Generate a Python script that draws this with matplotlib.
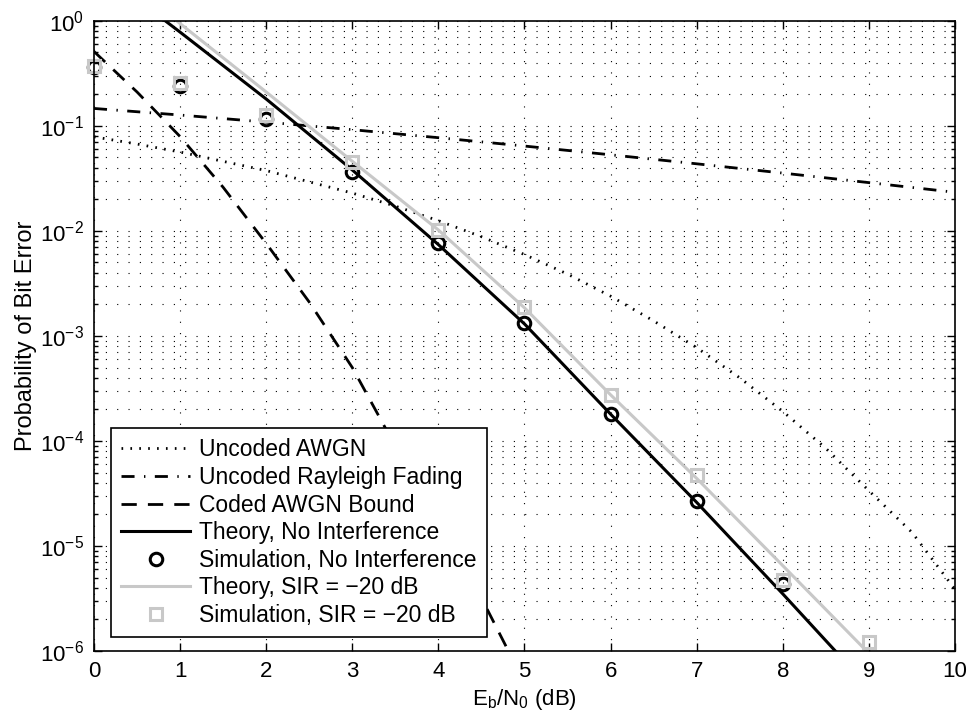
import matplotlib
matplotlib.use('Agg')
import matplotlib.pyplot as plt
from matplotlib.ticker import FixedLocator, NullFormatter, LogFormatterMathtext

plt.rcParams['font.family'] = ['Liberation Sans', 'DejaVu Sans']
plt.rcParams['mathtext.fontset'] = 'custom'
plt.rcParams['mathtext.rm'] = 'Liberation Sans'
plt.rcParams['mathtext.it'] = 'Liberation Sans:italic'
plt.rcParams['mathtext.default'] = 'regular'
plt.rcParams['font.size'] = 16

# Uncoded BPSK in AWGN
ebn0_awgn = [0, 0.5, 1, 1.5, 2, 2.5, 3, 3.5, 4, 4.5, 5, 5.5, 6, 6.5, 7, 7.5, 8, 8.5, 9, 9.5, 10]
pb_awgn = [0.0786, 0.0671, 0.0563, 0.0459, 0.0375, 0.0293, 0.0229, 0.0172, 0.0125, 0.0088,
           5.95e-3, 3.88e-3, 2.39e-3, 1.39e-3, 7.73e-4, 3.99e-4, 1.91e-4, 8.5e-5, 3.36e-5,
           1.35e-5, 3.87e-6]

# Uncoded Rayleigh fading
ebn0_ray = [0, 1, 2, 3, 4, 5, 6, 7, 8, 9, 10]
pb_ray = [0.1464, 0.1267, 0.1085, 0.0919, 0.0771, 0.0642, 0.0530, 0.0435, 0.0355, 0.0288, 0.0233]

# Coded AWGN union bound
ebn0_coded = [0, 0.5, 1, 1.5, 2, 2.5, 3, 3.5, 4, 4.5, 5]
pb_coded = [0.51, 0.21, 0.079, 0.026, 7.6e-3, 2.1e-3, 5.0e-4, 8.9e-5, 1.6e-5, 3.2e-6, 5e-7]

# Theory curves
ebn0_th = [0.8, 1, 2, 3, 4, 5, 6, 7, 8, 9]
pb_th_clean = [1.04, 0.78, 0.18, 0.038, 7.4e-3, 1.3e-3, 1.8e-4, 2.6e-5, 3.5e-6, 4.5e-7]
ebn0_th_sir = [0.9, 1, 2, 3, 4, 5, 6, 7, 8, 9, 10]
pb_th_sir = [1.1, 0.94, 0.21, 0.046, 0.0102, 1.85e-3, 2.75e-4, 4.4e-5, 6.5e-6, 0.95e-6, 1.4e-7]

# Simulation points
ebn0_sim_clean = [0, 1, 2, 3, 4, 5, 6, 7, 8]
pb_sim_clean = [0.36, 0.24, 0.115, 0.0366, 7.7e-3, 1.32e-3, 1.8e-4, 2.7e-5, 4.3e-6]
ebn0_sim_sir = [0, 1, 2, 3, 4, 5, 6, 7, 8, 9]
pb_sim_sir = [0.37, 0.257, 0.128, 0.045, 0.0102, 1.87e-3, 2.75e-4, 4.7e-5, 4.7e-6, 1.22e-6]

y_major = [1e-6, 1e-5, 1e-4, 1e-3, 1e-2, 1e-1, 1]
y_minor = [m * d for d in y_major[:-1] for m in range(2, 10)]

gray = '#c8c8c8'

fig = plt.figure(figsize=(9.72, 7.17), dpi=100)
ax = fig.add_axes([0.0967, 0.092, 0.8858, 0.879])

ax.semilogy(ebn0_awgn, pb_awgn, color='k', lw=2, linestyle=(0, (0.6, 2.6)),
            dash_capstyle='butt', label='Uncoded AWGN')
ax.semilogy(ebn0_ray, pb_ray, color='k', lw=2, linestyle=(0, (4.7, 3.4, 0.5, 3.4)),
            dash_capstyle='butt', label='Uncoded Rayleigh Fading')
ax.semilogy(ebn0_coded, pb_coded, color='k', lw=2, linestyle=(0, (5.5, 4)),
            dash_capstyle='butt', label='Coded AWGN Bound')
ax.semilogy(ebn0_th, pb_th_clean, color='k', lw=2.2, label='Theory, No Interference')
ax.semilogy(ebn0_sim_clean, pb_sim_clean, linestyle='none', marker='o', ms=9, mew=2.2,
            mec='k', mfc='none', clip_on=False, label='Simulation, No Interference')
ax.semilogy(ebn0_th_sir, pb_th_sir, color=gray, lw=2.2, label='Theory, SIR = \u221220 dB')
ax.semilogy(ebn0_sim_sir, pb_sim_sir, linestyle='none', marker='s', ms=9, mew=2.2,
            mec=gray, mfc='none', clip_on=False, label='Simulation, SIR = \u221220 dB')

ax.set_xlim(0, 10)
ax.set_ylim(1e-6, 1)
ax.set_xticks(range(0, 11))
ax.yaxis.set_major_locator(FixedLocator(y_major))
ax.yaxis.set_major_formatter(LogFormatterMathtext())
ax.yaxis.set_minor_locator(FixedLocator(y_minor))
ax.yaxis.set_minor_formatter(NullFormatter())

# dotted grid, one dot roughly every 10 px
ax.grid(True, which='major', axis='both', color='k', lw=0.8, linestyle=(0, (1, 9.2)))
ax.grid(True, which='minor', axis='y', color='k', lw=0.8, linestyle=(0, (1, 9.2)))

ax.tick_params(which='both', direction='in', top=True, right=True, width=1)
ax.tick_params(which='major', length=6, pad=7)
ax.tick_params(which='minor', length=3)
for s in ax.spines.values():
    s.set_linewidth(1.2)

ax.set_xlabel('E$_{b}$/N$_{0}$ (dB)', labelpad=4)
ax.set_ylabel('Probability of Bit Error', fontsize=17, labelpad=2)

leg = ax.legend(loc='lower left', bbox_to_anchor=(0.0198, 0.022), fontsize=16.5,
                handlelength=3.0, handletextpad=0.4, labelspacing=0.2,
                borderpad=0.45, borderaxespad=0, fancybox=False, framealpha=1)
leg.get_frame().set_edgecolor('k')
leg.get_frame().set_linewidth(1.2)

fig.savefig('out.png', dpi=100)
